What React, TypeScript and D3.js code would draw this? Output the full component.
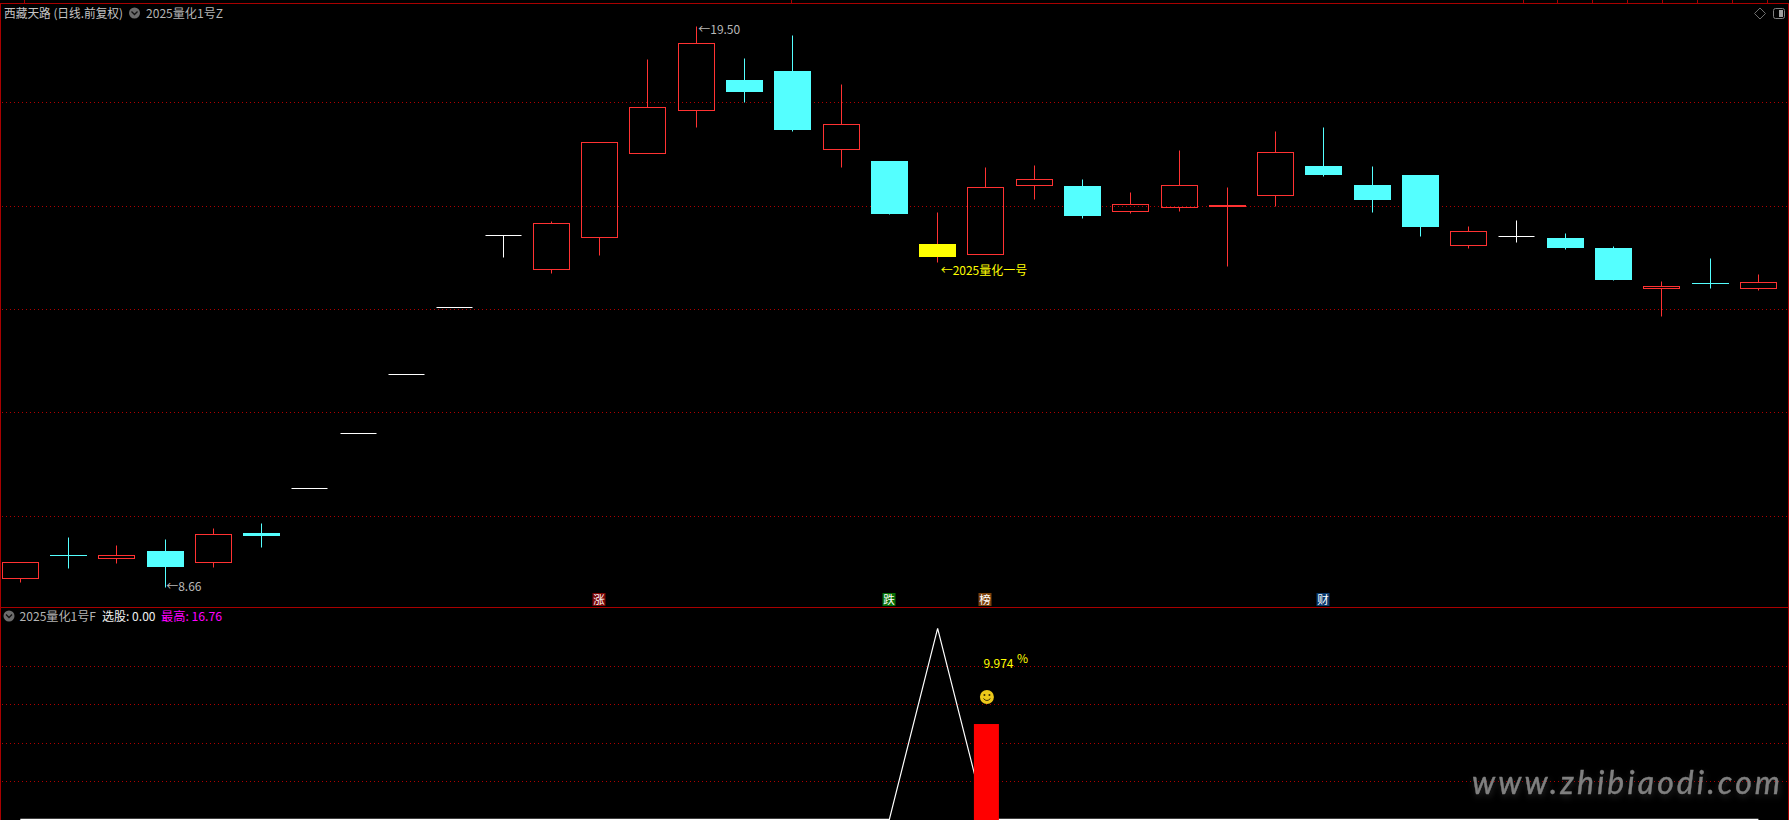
import * as d3 from "d3";

const WIDTH = 1789;
const HEIGHT = 820;
const FONT = '"Noto Sans CJK SC", "Noto Sans", sans-serif';

// daily bars
const opens = [8.82, 9.26, 9.21, 9.34, 9.13, 9.7, 10.57, 11.63, 12.77, 14.06, 15.46, 14.8, 15.42, 17.03, 17.87, 18.44, 18.63, 17.11, 16.89, 15.27, 15.08, 16.41, 16.39, 15.91, 15.99, 16.01, 16.22, 16.79, 16.41, 16.62, 15.25, 15.44, 15.4, 15.21, 14.42, 14.53, 14.42];
const closes = [9.14, 9.25, 9.26, 9.03, 9.68, 9.63, 10.57, 11.63, 12.77, 14.06, 15.46, 15.69, 17.25, 17.93, 19.17, 18.22, 17.49, 17.6, 15.85, 15.02, 16.38, 16.54, 15.81, 16.05, 16.42, 16.04, 17.06, 16.62, 16.12, 15.6, 15.53, 15.44, 15.21, 14.59, 14.47, 14.52, 14.55];
const highs = [9.14, 9.61, 9.47, 9.57, 9.79, 9.88, 10.57, 11.63, 12.77, 14.06, 15.46, 15.73, 17.25, 18.86, 19.5, 18.88, 19.31, 18.36, 16.89, 15.89, 16.76, 16.81, 16.54, 16.29, 17.1, 16.37, 17.47, 17.53, 16.78, 16.62, 15.63, 15.75, 15.5, 15.23, 14.57, 15.0, 14.69];
const lows = [8.74, 9.01, 9.11, 8.66, 9.03, 9.42, 10.57, 11.63, 12.77, 14.06, 15.02, 14.71, 15.06, 17.03, 17.53, 18.03, 17.47, 16.76, 15.85, 14.93, 15.08, 16.14, 15.79, 15.87, 15.91, 14.85, 16.01, 16.59, 15.89, 15.44, 15.2, 15.31, 15.19, 14.59, 13.88, 14.42, 14.39];
const highlightBar = 19;

const priceGrid = [18.03, 16.02, 14.03, 12.03, 10.03];
const lowerGrid = [13.37, 10.07, 6.65, 3.3];

// lower pane
const pickLine = [0, 0, 0, 0, 0, 0, 0, 0, 0, 0, 0, 0, 0, 0, 0, 0, 0, 0, 0, 16.76, 0, 0, 0, 0, 0, 0, 0, 0, 0, 0, 0, 0, 0, 0, 0, 0, 0];
const pickBars = [{ index: 20, value: 8.36 }];

const badges = [
  { index: 12, label: "涨", color: "#7c0606" },
  { index: 18, label: "跌", color: "#067006" },
  { index: 20, label: "榜", color: "#7a410c" },
  { index: 27, label: "财", color: "#0a3a6c" },
];

const headerTicks = [24, 791, 1523, 1557, 1592, 1627, 1662, 1697, 1732, 1767];

const RED = "#ff3232";
const CYAN = "#54ffff";
const BORDER = "#a80000";
const GRID = "#b00000";

const snap = (v: number) => Math.floor(v) + 0.5;

const xScale = d3.scaleLinear().domain([0, 36]).range([20.3, 1758.4]);
const yPrice = d3.scaleLinear().domain([8.66, 19.5]).range([587, 26]);
const yLower = d3.scaleLinear().domain([0, 16.76]).range([819.3, 628.3]);

const pickPath = d3
  .line<number>()
  .x((_, i) => xScale(i))
  .y((d) => yLower(d))(pickLine);

function barColor(i: number) {
  if (opens[i] === closes[i]) return "#ffffff";
  return closes[i] > opens[i] ? RED : CYAN;
}

function Candle({ i }: { i: number }) {
  const cx = snap(xScale(i));
  const top = snap(yPrice(Math.max(opens[i], closes[i])));
  const bottom = snap(yPrice(Math.min(opens[i], closes[i])));
  const high = snap(yPrice(highs[i]));
  const low = snap(yPrice(lows[i]));
  const color = barColor(i);
  if (opens[i] === closes[i]) {
    return (
      <g>
        <line x1={cx} x2={cx} y1={high} y2={low} stroke={color} />
        <line x1={cx - 18} x2={cx + 18} y1={top} y2={top} stroke={color} />
      </g>
    );
  }
  if (closes[i] > opens[i]) {
    // hollow body, the grid shows through it
    return (
      <g stroke={color}>
        {high < top && <line x1={cx} x2={cx} y1={high} y2={top} />}
        {low > bottom && <line x1={cx} x2={cx} y1={bottom} y2={low} />}
        <rect x={cx - 18} y={top} width={36} height={bottom - top} fill="none" />
      </g>
    );
  }
  return (
    <g>
      <line x1={cx} x2={cx} y1={high} y2={low} stroke={i === highlightBar ? RED : color} />
      <rect
        x={cx - 18.5}
        y={top - 0.5}
        width={37}
        height={Math.max(bottom - top, 1)}
        fill={i === highlightBar ? "#ffff00" : color}
      />
    </g>
  );
}

function Chevron({ cx, cy }: { cx: number; cy: number }) {
  return (
    <g>
      <circle cx={cx} cy={cy} r={5.5} fill="#6c6c6c" />
      <path d={`M${cx - 3} ${cy - 1.5}L${cx} ${cy + 1.5}L${cx + 3} ${cy - 1.5}`} fill="none" stroke="#111" strokeWidth={1.3} />
    </g>
  );
}

function Smiley({ cx, cy }: { cx: number; cy: number }) {
  return (
    <g>
      <circle cx={cx} cy={cy} r={7} fill="#ecc81a" />
      <circle cx={cx - 2.5} cy={cy - 2} r={1} fill="#3a2c00" />
      <circle cx={cx + 2.5} cy={cy - 2} r={1} fill="#3a2c00" />
      <path d={`M${cx - 3.5} ${cy + 1.5}Q${cx} ${cy + 5.5} ${cx + 3.5} ${cy + 1.5}`} fill="none" stroke="#3a2c00" strokeWidth={1} />
    </g>
  );
}

export default function App() {
  return (
    <svg
      width={WIDTH}
      height={HEIGHT}
      viewBox={`0 0 ${WIDTH} ${HEIGHT}`}
      style={{ position: "absolute", left: 0, top: 0, background: "#000", fontFamily: FONT }}
    >
      {/* frame */}
      <line x1={0} x2={WIDTH} y1={3.5} y2={3.5} stroke={BORDER} />
      <line x1={0} x2={WIDTH} y1={607.5} y2={607.5} stroke={BORDER} />
      <line x1={0.5} x2={0.5} y1={3} y2={HEIGHT} stroke={BORDER} />
      <line x1={WIDTH - 0.5} x2={WIDTH - 0.5} y1={3} y2={HEIGHT} stroke={BORDER} />
      {headerTicks.map((x) => (
        <line key={x} x1={x + 0.5} x2={x + 0.5} y1={0} y2={3} stroke={BORDER} />
      ))}

      {/* grid */}
      {priceGrid.map((p) => (
        <line key={p} x1={2} x2={WIDTH - 2} y1={snap(yPrice(p))} y2={snap(yPrice(p))} stroke={GRID} strokeDasharray="1 3" />
      ))}
      {lowerGrid.map((v) => (
        <line key={v} x1={2} x2={WIDTH - 2} y1={snap(yLower(v))} y2={snap(yLower(v))} stroke={GRID} strokeDasharray="1 3" />
      ))}

      {/* candles */}
      {opens.map((_, i) => (
        <Candle key={i} i={i} />
      ))}

      {/* top legend */}
      <text x={4} y={17.5} fontSize={12} fill="#c4c4c4" textLength={119} lengthAdjust="spacingAndGlyphs">西藏天路 (日线.前复权)</text>
      <Chevron cx={134.5} cy={13} />
      <text x={146} y={17.5} fontSize={12} fill="#b4b4b4" textLength={77} lengthAdjust="spacingAndGlyphs">2025量化1号Z</text>
      <path d="M1760 8L1765.5 13.5L1760 19L1754.5 13.5Z" fill="none" stroke="#6e6e6e" />
      <rect x={1773.5} y={8.5} width={11} height={10} rx={2} fill="none" stroke="#808080" />
      <rect x={1779} y={10} width={4} height={7} fill="#a0a0a0" />

      {/* annotations */}
      <text x={xScale(14) + 2} y={34} fontSize={12} fill="#b8b8b8">←19.50</text>
      <text x={xScale(3) + 1} y={591} fontSize={12} fill="#b8b8b8">←8.66</text>
      <text x={xScale(19) + 3} y={275} fontSize={12} fill="#ffff00">←2025量化一号</text>

      {/* badges */}
      {badges.map((b) => (
        <g key={b.label}>
          <rect x={snap(xScale(b.index)) - 7} y={593} width={13} height={13} fill={b.color} />
          <text x={snap(xScale(b.index)) - 0.5} y={604} fontSize={11.5} textAnchor="middle" fill="#fff">
            {b.label}
          </text>
        </g>
      ))}

      {/* lower legend */}
      <Chevron cx={9} cy={616} />
      <text x={19.5} y={621} fontSize={12} fill="#b4b4b4" textLength={76.5} lengthAdjust="spacingAndGlyphs">2025量化1号F</text>
      <text x={102} y={621} fontSize={12} fill="#f0f0f0" textLength={53.5} lengthAdjust="spacingAndGlyphs">选股: 0.00</text>
      <text x={161} y={621} fontSize={12} fill="#ff00ff" textLength={61} lengthAdjust="spacingAndGlyphs">最高: 16.76</text>

      {/* lower pane */}
      <path d={pickPath ?? ""} fill="none" stroke="#ffffff" strokeWidth={1.2} />
      {pickBars.map((b) => (
        <rect
          key={b.index}
          x={xScale(b.index) - 12}
          y={yLower(b.value)}
          width={25}
          height={yLower(0) - yLower(b.value) + 1}
          fill="#ff0000"
        />
      ))}
      <Smiley cx={xScale(20) + 1} cy={697} />
      <text x={983.5} y={668} fontSize={12} fill="#ffff00">9.974</text>
      <text x={1017} y={663} fontSize={12} fill="#ffff00">%</text>

      {/* watermark */}
      <text
        x={1472}
        y={794}
        fontFamily="Lato, sans-serif"
        fontStyle="italic"
        fontSize={32}
        fill="#808080"
        stroke="#808080"
        strokeWidth={0.4}
        textLength={308}
        lengthAdjust="spacing"
        style={{ filter: "drop-shadow(1px 3px 3px rgba(90,90,90,0.4))" }}
      >
        www.zhibiaodi.com
      </text>
    </svg>
  );
}
